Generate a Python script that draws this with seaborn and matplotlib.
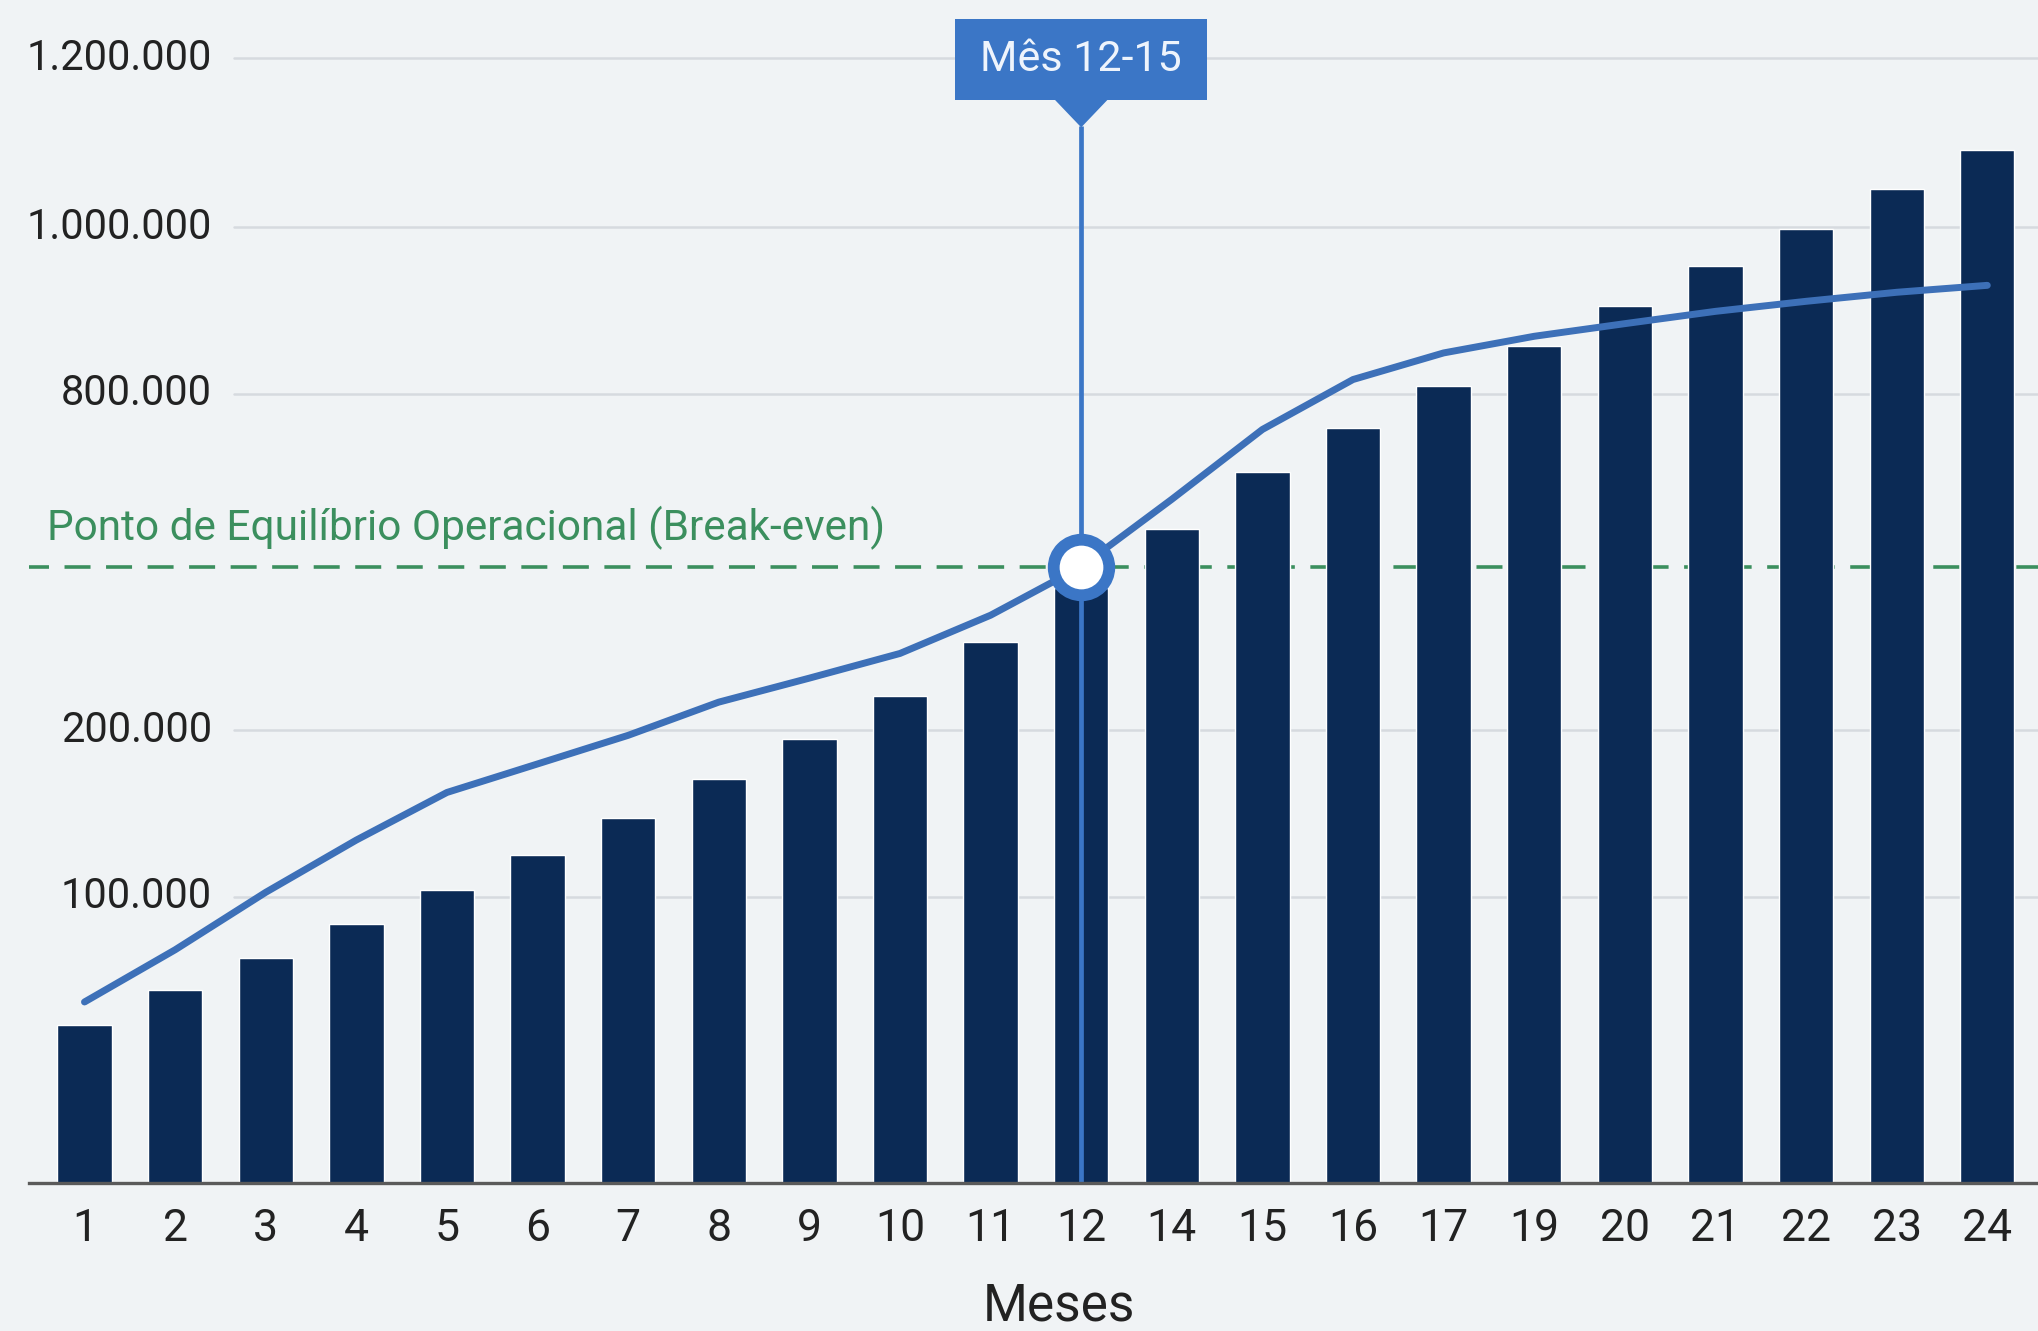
import numpy as np
import pandas as pd
import matplotlib
matplotlib.use('Agg')
import matplotlib.pyplot as plt
from matplotlib.patches import Rectangle, Polygon
import seaborn as sns

# meses mostrados no eixo (13 e 18 nao aparecem no grafico)
meses = ['1', '2', '3', '4', '5', '6', '7', '8', '9', '10', '11', '12',
         '14', '15', '16', '17', '19', '20', '21', '22', '23', '24']

# altura das barras, na escala vertical do grafico
receita = [188800, 230000, 268800, 309600, 350600, 392400, 436200, 482700,
           530500, 582000, 646600, 711700, 781400, 850200, 902700, 952400,
           1000200, 1047900, 1095600, 1140600, 1187900, 1235000]

# curva azul
acumulado = [216200, 278600, 347300, 409800, 466700, 500800, 535000, 574700,
             603400, 632900, 678600, 736600, 817200, 900700, 960400, 992200,
             1012100, 1027200, 1041900, 1053900, 1064700, 1073000]

# o eixo do grafico original nao e linear: posicao da grade -> rotulo
ytick_pos = [341900, 540800, 943300, 1142200, 1344200]
ytick_lab = ['100.000', '200.000', '800.000', '1.000.000', '1.200.000']

break_even = 736600
mes_destaque = '12'
rotulo_destaque = 'Mês 12-15'
rotulo_be = 'Ponto de Equilíbrio Operacional (Break-even)'

sns.set_theme(style='white')
plt.rcParams['font.family'] = ['Roboto', 'DejaVu Sans']

bg = '#f0f3f5'
navy = '#0b2a55'
blue = '#3d70b8'
blue_box = '#3b76c6'
green = '#3b8f5e'

fig = plt.figure(figsize=(20.38, 13.31), dpi=100, facecolor=bg)
ax = fig.add_axes([22 / 1568, 1 - 910 / 1024, 1 - 22 / 1568, 910 / 1024])
ax.set_facecolor(bg)

df = pd.DataFrame({'mes': meses, 'receita': receita, 'acumulado': acumulado})

for yp in ytick_pos:
    ax.axhline(yp, xmin=0.102, xmax=1, color='#d6dadf', lw=1.8, zorder=0)
for yp, lab in zip(ytick_pos, ytick_lab):
    ax.text(0.0912, yp, lab, transform=ax.get_yaxis_transform(), ha='right',
            va='center', fontsize=30, color='#222222')

sns.barplot(data=df, x='mes', y='receita', order=meses, color=navy,
            width=0.6, saturation=1, ax=ax, zorder=2)

ax.axhline(break_even, color=green, lw=2.6, dashes=(7.2, 4.3), zorder=1.5,
           xmin=-0.003, xmax=1)
ax.text(0.009, 783000, rotulo_be, transform=ax.get_yaxis_transform(),
        ha='left', va='center', fontsize=30.5, color=green)

x_idx = np.arange(len(meses))
sns.lineplot(x=x_idx, y=df['acumulado'], sort=False, color=blue,
             linewidth=5, ax=ax, zorder=4)

i12 = meses.index(mes_destaque)
step = 1554  # unidades por pixel da imagem de referencia
ax.vlines(i12, 0, (910 - 97) * step, color=blue_box, lw=3.4, zorder=3)
ax.plot(i12, break_even, marker='o', ms=40, mfc='white', mec=blue_box,
        mew=8.5, zorder=5)

# caixa de destaque com ponteiro
half_w = 97 / 69.7
ax.add_patch(Rectangle((i12 - half_w, (910 - 77) * step), 2 * half_w,
                       62 * step, facecolor=blue_box, edgecolor='none',
                       zorder=6, clip_on=False))
ax.add_patch(Polygon([(i12 - 21 / 69.7, (910 - 76) * step),
                      (i12 + 21 / 69.7, (910 - 76) * step),
                      (i12, (910 - 98) * step)], closed=True,
                     facecolor=blue_box, edgecolor='none', zorder=6))
ax.text(i12, (910 - 46) * step, rotulo_destaque, ha='center', va='center',
        fontsize=31, color='#eef4fc', zorder=7)

ax.set_xlim(-(65 - 22) / 69.7, 21 + (1568 - 1529) / 69.7)
ax.set_ylim(0, 910 * step)
ax.set_yticks([])
ax.set_xlabel('')
ax.set_ylabel('')
ax.tick_params(axis='x', length=0, pad=18, labelsize=32, labelcolor='#222222')
for s in ['top', 'right', 'left']:
    ax.spines[s].set_visible(False)
ax.spines['bottom'].set_color('#5a5a5a')
ax.spines['bottom'].set_linewidth(2.4)
ax.spines['bottom'].set_zorder(3)

fig.text(815 / 1568, 1 - 1005 / 1024, 'Meses', ha='center', va='center',
         fontsize=37, color='#222222')

fig.savefig('out.png', dpi=100, facecolor=bg)
